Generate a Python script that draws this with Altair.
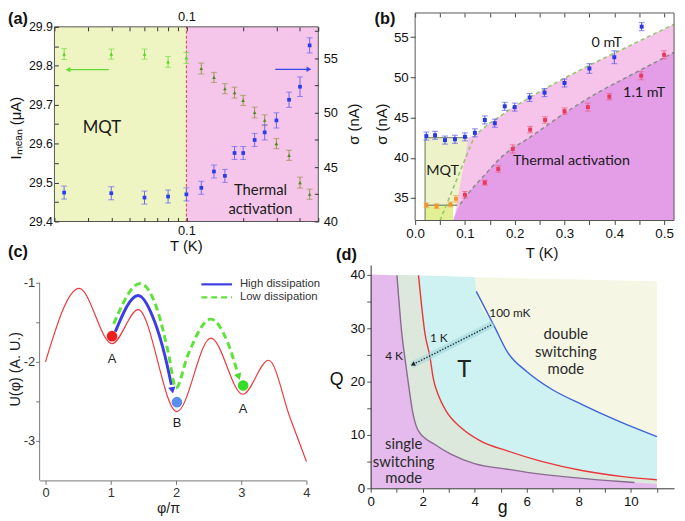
import altair as alt
import pandas as pd

AXF = "Liberation Sans"
ANF = "Lato"

# ============================ DATA ============================
# (a) mean switching current (left axis) and sigma (right axis) vs T (log axis)
T_A = [0.0225, 0.04, 0.06, 0.08, 0.10, 0.12, 0.14, 0.16, 0.18, 0.20, 0.23, 0.26, 0.30, 0.35, 0.40, 0.45]
IMEAN = [29.830, 29.830, 29.830, 29.810, 29.820, 29.793, 29.770, 29.741, 29.731, 29.711,
         29.680, 29.660, 29.600, 29.570, 29.500, 29.470]
IMEAN_ERR = [0.014, 0.013, 0.013, 0.014, 0.014, 0.014, 0.013, 0.013, 0.014, 0.013,
             0.014, 0.014, 0.013, 0.013, 0.014, 0.013]
SIGMA_A = [42.66, 42.60, 42.20, 42.30, 42.50, 43.10, 44.60, 44.20, 46.30, 46.30,
           47.50, 48.20, 49.30, 51.20, 52.40, 56.20]
SIGMA_A_ERR = [0.6, 0.6, 0.6, 0.6, 0.6, 0.6, 0.6, 0.6, 0.6, 0.6, 0.6, 0.7, 0.7, 0.7, 0.9, 0.7]
A_T_LIMITS = [0.02, 0.5]
A_I_LIMITS = [29.4, 29.9]
A_T_CROSS = 0.1
A_T_TICKS = [0.02, 0.03, 0.04, 0.05, 0.06, 0.07, 0.08, 0.09, 0.1, 0.2, 0.3, 0.4, 0.5]
A_I_TICKS = [29.4, 29.45, 29.5, 29.55, 29.6, 29.65, 29.7, 29.75, 29.8, 29.85, 29.9]
A_S_TICKS = [40, 42.5, 45, 47.5, 50, 52.5, 55, 57.5]
A_NOTE_TEXT = ["Thermal", "activation"]
A_NOTE_T = [0.247, 0.247]
A_NOTE_I = [29.481, 29.431]
A_MQT_T, A_MQT_I = 0.0357, 29.639
A_ARROW_I = 29.79
A_ARROW_I_T = [0.0388, 0.0236]
A_ARROW_S = 54.0
A_ARROW_S_T = [0.296, 0.446]

# (b) sigma vs T at 0 mT and 1.1 mT
T_B0 = [0.0225, 0.04, 0.06, 0.08, 0.10, 0.12, 0.14, 0.16, 0.18, 0.20, 0.23, 0.26, 0.30, 0.35, 0.40, 0.455]
SIG_B0 = [42.7, 42.8, 42.2, 42.3, 42.6, 43.1, 44.7, 44.3, 46.4, 46.3, 47.5, 48.1, 49.3, 51.1, 52.5, 56.3]
ERR_B0 = [0.5, 0.5, 0.5, 0.5, 0.5, 0.5, 0.5, 0.5, 0.5, 0.5, 0.5, 0.5, 0.5, 0.6, 0.8, 0.5]
T_B1 = [0.0225, 0.043, 0.071, 0.082, 0.10, 0.14, 0.167, 0.196, 0.231, 0.261, 0.30, 0.347, 0.39, 0.454, 0.50]
SIG_B1 = [34.1, 34.0, 34.2, 34.9, 35.4, 36.9, 38.6, 41.1, 43.5, 44.7, 45.8, 46.3, 47.6, 50.2, 52.8]
ERR_B1 = [0.3, 0.3, 0.3, 0.4, 0.4, 0.3, 0.4, 0.5, 0.4, 0.4, 0.4, 0.5, 0.4, 0.5, 0.5]
B_T_LIMITS = [0.0, 0.52]
B_S_LIMITS = [32.2, 58.0]
B_T_TICKS = [0.0, 0.05, 0.1, 0.15, 0.2, 0.25, 0.3, 0.35, 0.4, 0.45, 0.5]
B_S_TICKS = [35, 40, 45, 50, 55]
B_BOX_T0 = [0.02, 0.02]
B_BOX_T1 = [0.106, 0.076]
B_BOX_S0 = [34.1, 32.2]
B_BOX_S1 = [42.5, 34.1]
B_BOX_KIND = ["MQT box", "MQT strip"]
B_PINK_T = [0.078, 0.107, 0.12, 0.15, 0.20, 0.25, 0.30, 0.35, 0.40, 0.45, 0.52]
B_PINK_S = [32.2, 42.5, 42.8, 44.3, 46.4, 48.2, 49.9, 51.5, 53.0, 54.5, 56.6]
B_ZERO_T = [0.05, 0.12, 0.15, 0.20, 0.25, 0.30, 0.35, 0.40, 0.45, 0.52]
B_ZERO_S = [32.2, 42.8, 44.3, 46.4, 48.2, 49.9, 51.5, 53.0, 54.5, 56.6]
B_MAG_T = [0.076, 0.09, 0.106, 0.14, 0.172, 0.238, 0.304, 0.37, 0.437, 0.52]
B_MAG_S = [32.2, 34.2, 35.5, 37.9, 40.0, 42.85, 45.7, 48.2, 50.4, 53.1]
B_LINE_T0 = [0.02, 0.02, 0.02]
B_LINE_T1 = [0.106, 0.085, 0.02]
B_LINE_S0 = [42.5, 34.1, 32.2]
B_LINE_S1 = [42.5, 34.1, 42.5]
B_NOTE_TEXT = ["0 mT", "1.1 mT", "Thermal activation", "MQT"]
B_NOTE_T = [0.385, 0.46, 0.314, 0.055]
B_NOTE_S = [54.3, 48.0, 39.6, 38.3]

# (c) tilted washboard potential
C_PHI = [0.0, 0.515, 1.02, 1.42, 2.015, 2.535, 3.025, 3.42, 3.75, 4.0]
C_U = [-2.0, -1.07, -1.77, -1.34, -2.63, -1.70, -2.41, -1.98, -2.71, -3.26]
C_HIGH_PHI = [1.07, 1.42, 1.677, 1.83, 1.93]
C_HIGH_U = [-1.62, -1.16, -1.50, -1.92, -2.29]
C_LOW_PHI = [1.045, 1.45, 1.727, 1.88, 2.0, 2.18, 2.535, 2.79, 2.95]
C_LOW_U = [-1.52, -1.01, -1.375, -1.875, -2.33, -1.92, -1.46, -1.75, -2.15]
C_HEAD_HIGH = [1.945, -2.36]
C_HEAD_LOW = [2.962, -2.19]
C_DOT_PHI = [1.02, 2.015, 3.03]
C_DOT_U = [-1.675, -2.51, -2.30]
C_DOT_STATE = ["A (start)", "B", "A (next)"]
C_LAB_TEXT = ["A", "B", "A"]
C_LAB_U = [-1.96, -2.78, -2.60]
C_PHI_TICKS = [0, 1, 2, 3, 4]
C_U_TICKS = [-3, -2.5, -2, -1.5, -1]
C_U_AXIS = [-3.5, -1.0]
C_LEG_PHI = [2.39, 2.86]
C_LEG_U = [-1.02, -1.185]
C_LEG_TEXT = ["High dissipation", "Low dissipation"]
C_LEG_TEXT_PHI = 2.98

# (d) switching-mode phase diagram in (g, Q)
D_4K_G = [1.01, 1.2, 1.33, 1.46, 1.61, 1.84, 2.47, 3.1, 3.99, 5.26, 6.53, 8.43, 10.14]
D_4K_Q = [39.9, 28.9, 23.9, 19.3, 14.4, 10.7, 8.2, 6.35, 4.63, 3.58, 2.65, 1.73, 1.1]
D_1K_G = [1.84, 2.09, 2.28, 2.41, 2.6, 2.91, 3.49, 4.25, 5.26, 6.53, 8.17, 9.7, 11.0]
D_1K_Q = [39.9, 28.9, 24.6, 20.5, 17.5, 14.4, 11.3, 8.8, 7.0, 5.1, 3.3, 2.2, 1.6]
D_100_G = [4.06, 4.75, 5.26, 6.02, 6.91, 8.17, 9.57, 11.0]
D_100_Q = [36.9, 30.4, 25.5, 21.8, 18.7, 15.6, 12.5, 9.7]
D_TOP_G = [0.0, 4.0, 11.0]
D_TOP_Q = [40.0, 39.56, 38.8]
D_PURPLE_END = [11.0, 0.8]
D_G_TICKS = [0, 1, 2, 3, 4, 5, 6, 7, 8, 9, 10, 11]
D_Q_TICKS = [0, 5, 10, 15, 20, 25, 30, 35, 40]
D_ARROW_G = [4.63, 1.66]
D_ARROW_Q = [30.6, 23.3]
D_HEAD = [1.62, 23.2]
D_MODE_TEXT = ["double", "switching", "mode", "single", "switching", "mode"]
D_MODE_G = [7.5, 7.5, 7.5, 1.27, 1.27, 1.27]
D_MODE_Q = [28.9, 25.6, 22.4, 8.2, 5.0, 1.9]
D_TEMP_TEXT = ["100 mK", "1 K", "4 K"]
D_TEMP_G = [5.35, 2.62, 0.9]
D_TEMP_Q = [32.9, 28.2, 24.7]
D_T_POS = [3.6, 22.1]


# ============================ HELPERS ============================
def X(f, s, axis=None):
    return alt.X(f, type="quantitative", scale=s, axis=axis)


def Y(f, s, axis=None):
    return alt.Y(f, type="quantitative", scale=s, axis=axis)


def cscale(domain, rng):
    return alt.Color("k:N", scale=alt.Scale(domain=domain, range=rng), legend=None)


def panel_label(txt, px, py):
    return alt.Chart(pd.DataFrame({"lab": [txt]})).mark_text(
        align="left", baseline="top", font=AXF, fontSize=16.5, fontWeight="bold", color="#111"
    ).encode(x=alt.value(px), y=alt.value(py), text="lab:N")


def errbars(df, xs, ys, color, cap):
    base = alt.Chart(df)
    r = base.mark_rule(strokeWidth=1).encode(x=X("x", xs), y=Y("lo", ys), y2="hi", color=color)
    t1 = base.mark_tick(orient="horizontal", size=cap, thickness=1).encode(
        x=X("x", xs), y=Y("lo", ys), color=color)
    t2 = base.mark_tick(orient="horizontal", size=cap, thickness=1).encode(
        x=X("x", xs), y=Y("hi", ys), color=color)
    return [r, t1, t2]


def ebdf(xv, yv, ev, kinds):
    return pd.DataFrame({"x": xv, "y": yv,
                         "lo": [a - b for a, b in zip(yv, ev)],
                         "hi": [a + b for a, b in zip(yv, ev)],
                         "k": kinds})


COMMON_AX = dict(grid=False, zindex=1, labelFont=AXF, titleFont=AXF, titleFontWeight="normal",
                 labelOverlap=False, labelFlush=False, titleAlign="center", titleBaseline="middle")

# ============================ PANEL (a) ============================
A_XS = alt.Scale(type="log", domain=[0.01669, 0.5], nice=False)
A_YL = alt.Scale(domain=[29.4, 29.9355], nice=False, zero=False)
A_YR = alt.Scale(domain=[40, 59.18], nice=False, zero=False)
A_AX = dict(COMMON_AX, domain=False, tickColor="#333", tickSize={"expr": "-4"},
            labelColor="#111", titleFontSize=15, titleColor="#111")

a_ax_bottom = alt.Axis(orient="bottom", values=A_T_TICKS, labelExpr="datum.value == 0.1 ? '0.1' : ''",
                       labelFontSize=13, labelPadding=7, title="T (K)", titleX=148, titleY=24, titleAngle=0, **A_AX)
a_ax_top = alt.Axis(orient="top", offset=-14, values=A_T_TICKS,
                    labelExpr="datum.value == 0.1 ? '0.1' : ''", labelFontSize=13, labelPadding=7,
                    title=None, **A_AX)
a_ax_left = alt.Axis(orient="left", offset=-15, values=A_I_TICKS,
                     labelExpr="round(datum.value*100) % 10 == 0 ? format(datum.value, '.1f') : ''",
                     labelFontSize=12.5, labelPadding=6, title="Iₘₑₐₙ (μA)", titleX=-39, titleY=116,
                     titleAngle=270, **A_AX)
a_ax_right = alt.Axis(orient="right", values=A_S_TICKS,
                      labelExpr="datum.value % 5 == 0 ? '' + datum.value : ''",
                      labelFontSize=13, labelPadding=9, title="σ (nA)", titleX=36, titleY=112,
                      titleAngle=270, **A_AX)

a_reg = pd.DataFrame({"t0": [A_T_LIMITS[0], A_T_CROSS], "t1": [A_T_CROSS, A_T_LIMITS[1]],
                      "i0": [A_I_LIMITS[0], A_I_LIMITS[0]], "i1": [A_I_LIMITS[1], A_I_LIMITS[1]],
                      "k": ["MQT", "TA"]})
a_bg = alt.Chart(a_reg).mark_rect().encode(
    x=X("t0", A_XS, a_ax_bottom), x2="t1", y=Y("i0", A_YL, a_ax_left), y2="i1",
    color=cscale(["MQT", "TA"], ["#eef5c3", "#f5c6ea"]))
a_box = pd.DataFrame({"t0": [A_T_LIMITS[0]], "t1": [A_T_LIMITS[1]],
                      "i0": [A_I_LIMITS[0]], "i1": [A_I_LIMITS[1]]})
a_frame = alt.Chart(a_box).mark_rect(fill="transparent", stroke="#555", strokeWidth=1).encode(
    x=X("t0", A_XS, a_ax_top), x2="t1", y=Y("i0", A_YL), y2="i1")
a_cross = alt.Chart(pd.DataFrame({"t": [A_T_CROSS], "i0": [A_I_LIMITS[0]], "i1": [A_I_LIMITS[1]]})).mark_rule(
    color="#e0393e", strokeDash=[3, 2], strokeWidth=1).encode(x=X("t", A_XS), y=Y("i0", A_YL), y2="i1")

a_g = ebdf(T_A, IMEAN, IMEAN_ERR, ["MQT" if t <= A_T_CROSS else "TA" for t in T_A])
a_b = ebdf(T_A, SIGMA_A, SIGMA_A_ERR, ["s" for _ in T_A])
a_g_bars = errbars(a_g, A_XS, A_YL, cscale(["MQT", "TA"], ["#78df45", "#97934f"]), 6)
a_g_pts = alt.Chart(a_g).mark_point(shape="triangle-up", filled=True, size=14, opacity=1).encode(
    x=X("x", A_XS), y=Y("y", A_YL), color=cscale(["MQT", "TA"], ["#55d21f", "#4b8a1f"]))
a_b_bars = errbars(a_b, A_XS, A_YR, cscale(["s"], ["#6a6af0"]), 6)
a_b_pts = alt.Chart(a_b).mark_point(shape="square", filled=True, size=14, opacity=1).encode(
    x=X("x", A_XS), y=Y("y", A_YR, a_ax_right), color=cscale(["s"], ["#2b3de8"]))

a_arr_g = pd.DataFrame({"t0": [A_ARROW_I_T[0]], "t1": [A_ARROW_I_T[1]], "v": [A_ARROW_I]})
a_arr_b = pd.DataFrame({"t0": [A_ARROW_S_T[0]], "t1": [A_ARROW_S_T[1]], "v": [A_ARROW_S]})
a_arrows = [
    alt.Chart(a_arr_g).mark_rule(color="#62d92f", strokeWidth=1.3).encode(
        x=X("t0", A_XS), x2="t1", y=Y("v", A_YL)),
    alt.Chart(a_arr_g).mark_point(shape="triangle-left", filled=True, size=30, color="#62d92f", opacity=1).encode(
        x=X("t1", A_XS), y=Y("v", A_YL)),
    alt.Chart(a_arr_b).mark_rule(color="#3447ea", strokeWidth=1.3).encode(
        x=X("t0", A_XS), x2="t1", y=Y("v", A_YR)),
    alt.Chart(a_arr_b).mark_point(shape="triangle-right", filled=True, size=30, color="#3447ea", opacity=1).encode(
        x=X("t1", A_XS), y=Y("v", A_YR)),
]
a_mqt = alt.Chart(pd.DataFrame({"t": [A_MQT_T], "v": [A_MQT_I], "txt": ["MQT"]})).mark_text(
    font=ANF, fontSize=17, color="#1a1a1a").encode(x=X("t", A_XS), y=Y("v", A_YL), text="txt:N")
a_notes = alt.Chart(pd.DataFrame({"t": A_NOTE_T, "v": A_NOTE_I, "txt": A_NOTE_TEXT})).mark_text(
    font=ANF, fontSize=15, color="#1a1a1a").encode(x=X("t", A_XS), y=Y("v", A_YL), text="txt:N")

panel_a = alt.layer(
    a_bg, a_frame, a_cross, *a_g_bars, a_g_pts, *a_b_bars, a_b_pts, *a_arrows, a_mqt, a_notes,
    panel_label("(a)", -32, -2)
).resolve_scale(y="independent", color="independent").resolve_axis(x="independent", y="independent").properties(
    width=282, height=211)

# ============================ PANEL (b) ============================
B_XS = alt.Scale(domain=[-0.0893, 0.52], nice=False, zero=False)
B_YS = alt.Scale(domain=[32.2, 58.0], nice=False, zero=False)
B_AX = dict(COMMON_AX, domain=False, tickColor="#444", labelFontSize=13.5, labelColor="#111",
            titleFontSize=15, titleColor="#111")
b_ax_left = alt.Axis(orient="left", offset=-45, values=B_S_TICKS, tickSize=5, labelPadding=2,
                     title="σ (nA)", titleX=-34, titleY=112, titleAngle=270, **B_AX)
b_ax_bottom = alt.Axis(orient="bottom", values=B_T_TICKS,
                       labelExpr="round(datum.value*100) % 10 == 0 ? format(datum.value, '.1f') : ''",
                       tickSize=4, labelPadding=2, title="T (K)", titleX=173, titleY=32, titleAngle=0, **B_AX)
b_ax_top = alt.Axis(orient="top", values=B_T_TICKS, labels=False, tickSize={"expr": "-4"}, title=None, **B_AX)

b_boxes = alt.Chart(pd.DataFrame({"t0": B_BOX_T0, "t1": B_BOX_T1, "s0": B_BOX_S0, "s1": B_BOX_S1,
                                  "k": B_BOX_KIND})).mark_rect().encode(
    x=X("t0", B_XS, b_ax_top), x2="t1", y=Y("s0", B_YS), y2="s1",
    color=cscale(B_BOX_KIND, ["#eef2c9", "#e2ef92"]))
b_pink = alt.Chart(pd.DataFrame({"t": B_PINK_T, "s": B_PINK_S, "b": [B_S_LIMITS[0] for _ in B_PINK_T]})).mark_area(
    color="#f6c4ea", opacity=1).encode(x=X("t", B_XS), y=Y("s", B_YS), y2="b")
b_mag = alt.Chart(pd.DataFrame({"t": B_MAG_T, "s": B_MAG_S, "b": [B_S_LIMITS[0] for _ in B_MAG_T]})).mark_area(
    color="#e49de7", opacity=1, interpolate="monotone").encode(x=X("t", B_XS), y=Y("s", B_YS), y2="b")
b_lines = alt.Chart(pd.DataFrame({"t0": B_LINE_T0, "t1": B_LINE_T1, "s0": B_LINE_S0, "s1": B_LINE_S1})).mark_rule(
    color="#8b9a7b", strokeWidth=1.4).encode(x=X("t0", B_XS), x2="t1", y=Y("s0", B_YS), y2="s1")
b_zero = alt.Chart(pd.DataFrame({"t": B_ZERO_T, "s": B_ZERO_S})).mark_line(
    color="#93c46c", strokeDash=[4, 3], strokeWidth=1.5).encode(x=X("t", B_XS), y=Y("s", B_YS))
b_one = alt.Chart(pd.DataFrame({"t": B_MAG_T[1:], "s": B_MAG_S[1:]})).mark_line(
    color="#8a8a8a", strokeDash=[4, 3], strokeWidth=1.5, interpolate="monotone").encode(
    x=X("t", B_XS), y=Y("s", B_YS))
b_frame = alt.Chart(pd.DataFrame({"t0": [B_T_LIMITS[0]], "t1": [B_T_LIMITS[1]],
                                  "s0": [B_S_LIMITS[0]], "s1": [B_S_LIMITS[1]]})).mark_rect(
    fill="transparent", stroke="#555", strokeWidth=1).encode(
    x=X("t0", B_XS, b_ax_bottom), x2="t1", y=Y("s0", B_YS, b_ax_left), y2="s1")

b_0 = ebdf(T_B0, SIG_B0, ERR_B0, ["0" for _ in T_B0])
b_1 = ebdf(T_B1, SIG_B1, ERR_B1, ["MQT" if t < 0.09 else "TA" for t in T_B1])
b_0_bars = errbars(b_0, B_XS, B_YS, cscale(["0"], ["#5757ee"]), 6)
b_0_pts = alt.Chart(b_0).mark_point(shape="square", filled=True, size=16, opacity=1).encode(
    x=X("x", B_XS), y=Y("y", B_YS), color=cscale(["0"], ["#2a37e6"]))
b_1_bars = errbars(b_1, B_XS, B_YS, cscale(["MQT", "TA"], ["#f4a64a", "#ef5a78"]), 6)
b_1_pts = alt.Chart(b_1).mark_point(shape="square", filled=True, size=16, opacity=1).encode(
    x=X("x", B_XS), y=Y("y", B_YS), color=cscale(["MQT", "TA"], ["#f2962c", "#e83a5e"]))
b_notes = alt.Chart(pd.DataFrame({"t": B_NOTE_T, "s": B_NOTE_S, "txt": B_NOTE_TEXT})).mark_text(
    font=ANF, fontSize=14.5, color="#1a1a1a").encode(x=X("t", B_XS), y=Y("s", B_YS), text="txt:N")

panel_b = alt.layer(
    b_boxes, b_pink, b_mag, b_lines, b_zero, b_one, b_frame, *b_0_bars, b_0_pts, *b_1_bars, b_1_pts,
    b_notes, panel_label("(b)", 4, -2)
).resolve_scale(color="independent").resolve_axis(x="independent", y="independent").properties(
    width=307, height=210)

# ============================ PANEL (c) ============================
C_XS = alt.Scale(domain=[-0.09, 4.0], nice=False, zero=False)
C_YS = alt.Scale(domain=[-3.5, -0.775], nice=False, zero=False)
C_AX = dict(COMMON_AX, tickColor="#777", labelFontSize=13, labelColor="#333", titleFontSize=14.5,
            titleColor="#222")
c_ax_x = alt.Axis(orient="bottom", values=C_PHI_TICKS, domain=True, domainColor="#777", tickSize=4,
                  labelPadding=2, title="φ/π", titleX=130, titleY=28, titleAngle=0, **C_AX)
c_ax_y = alt.Axis(orient="left", domain=False, values=C_U_TICKS,
                  labelExpr="datum.value % 1 == 0 ? '' + datum.value : ''", tickSize=4, labelPadding=1,
                  title="U(φ) (A. U.)", titleX=-24, titleY=105, titleAngle=270, **C_AX)

c_red = alt.Chart(pd.DataFrame({"p": C_PHI, "u": C_U})).mark_line(
    color="#ec3b3f", strokeWidth=1.2, interpolate="monotone").encode(
    x=X("p", C_XS, c_ax_x), y=Y("u", C_YS, c_ax_y))
c_yline = alt.Chart(pd.DataFrame({"p": [C_XS.domain[0]], "u0": [C_U_AXIS[0]], "u1": [C_U_AXIS[1]]})).mark_rule(
    color="#777", strokeWidth=1).encode(x=X("p", C_XS), y=Y("u0", C_YS), y2="u1")
c_high = alt.Chart(pd.DataFrame({"p": C_HIGH_PHI, "u": C_HIGH_U})).mark_line(
    color="#3d3de6", strokeWidth=3, interpolate="monotone").encode(x=X("p", C_XS), y=Y("u", C_YS))
c_high_head = alt.Chart(pd.DataFrame({"p": [C_HEAD_HIGH[0]], "u": [C_HEAD_HIGH[1]]})).mark_point(
    shape="triangle-down", angle=350, filled=True, size=55, color="#3d3de6", opacity=1).encode(
    x=X("p", C_XS), y=Y("u", C_YS))
c_low = alt.Chart(pd.DataFrame({"p": C_LOW_PHI, "u": C_LOW_U})).mark_line(
    color="#5fe23a", strokeWidth=3, strokeDash=[7, 4], interpolate="monotone").encode(
    x=X("p", C_XS), y=Y("u", C_YS))
c_low_head = alt.Chart(pd.DataFrame({"p": [C_HEAD_LOW[0]], "u": [C_HEAD_LOW[1]]})).mark_point(
    shape="triangle-down", angle=340, filled=True, size=60, color="#4fd92c", opacity=1).encode(
    x=X("p", C_XS), y=Y("u", C_YS))
c_dots = alt.Chart(pd.DataFrame({"p": C_DOT_PHI, "u": C_DOT_U, "k": C_DOT_STATE})).mark_point(
    shape="circle", filled=True, size=115, opacity=1).encode(
    x=X("p", C_XS), y=Y("u", C_YS), color=cscale(C_DOT_STATE, ["#f01e1e", "#5b8def", "#35dc2a"]))
c_labs = alt.Chart(pd.DataFrame({"p": C_DOT_PHI, "u": C_LAB_U, "txt": C_LAB_TEXT})).mark_text(
    font=AXF, fontSize=13, color="#222").encode(x=X("p", C_XS), y=Y("u", C_YS), text="txt:N")
c_leg_hi = alt.Chart(pd.DataFrame({"p0": [C_LEG_PHI[0]], "p1": [C_LEG_PHI[1]], "u": [C_LEG_U[0]]})).mark_rule(
    color="#3d3de6", strokeWidth=2.2).encode(x=X("p0", C_XS), x2="p1", y=Y("u", C_YS))
c_leg_lo = alt.Chart(pd.DataFrame({"p0": [C_LEG_PHI[0]], "p1": [C_LEG_PHI[1]], "u": [C_LEG_U[1]]})).mark_rule(
    color="#5fe23a", strokeWidth=2.2, strokeDash=[6, 4]).encode(x=X("p0", C_XS), x2="p1", y=Y("u", C_YS))
c_leg_txt = alt.Chart(pd.DataFrame({"p": [C_LEG_TEXT_PHI, C_LEG_TEXT_PHI], "u": C_LEG_U, "txt": C_LEG_TEXT})).mark_text(
    font=AXF, fontSize=11.5, color="#333", align="left").encode(x=X("p", C_XS), y=Y("u", C_YS), text="txt:N")

panel_c = alt.layer(
    c_red, c_yline, c_high, c_high_head, c_low, c_low_head, c_dots, c_labs, c_leg_hi, c_leg_lo, c_leg_txt,
    panel_label("(c)", -32, -21)
).resolve_scale(color="independent").resolve_axis(x="independent", y="independent").properties(
    width=270, height=218)

# ============================ PANEL (d) ============================
D_XS = alt.Scale(domain=[0, 11.66], nice=False, zero=False)
D_YS = alt.Scale(domain=[0, 41.85], nice=False, zero=False)
D_AX = dict(COMMON_AX, domain=True, domainColor="#333", tickColor="#555", tickSize=4, labelPadding=2,
            labelFontSize=13.5, labelColor="#111", titleFontSize=18, titleColor="#111")
d_ax_x = alt.Axis(orient="bottom", values=D_G_TICKS, labelExpr="datum.value % 2 == 0 ? '' + datum.value : ''",
                  title="g", titleX=133, titleY=19, titleAngle=0, **D_AX)
d_ax_y = alt.Axis(orient="left", values=D_Q_TICKS, labelExpr="datum.value % 10 == 0 ? '' + datum.value : ''",
                  title="Q", titleX=-35, titleY=116, titleAngle=0, **D_AX)


def region(gs, qs, color, axes=False):
    df = pd.DataFrame({"g": gs, "q": qs, "b": [0.0 for _ in gs]})
    return alt.Chart(df).mark_area(color=color, opacity=1, interpolate="monotone").encode(
        x=X("g", D_XS, d_ax_x if axes else None), y=Y("q", D_YS, d_ax_y if axes else None), y2="b")


d_yellow = region([D_TOP_G[0], D_TOP_G[2]], [D_TOP_Q[0], D_TOP_Q[2]], "#f5f7e4", axes=True)
d_cyan = region([D_TOP_G[0], D_TOP_G[1]] + D_100_G, [D_TOP_Q[0], D_TOP_Q[1]] + D_100_Q, "#cdf2f1")
d_gray = region([D_TOP_G[0]] + D_1K_G, [D_TOP_Q[0]] + D_1K_Q, "#dde8dc")
d_purple = region([D_TOP_G[0]] + D_4K_G + [D_PURPLE_END[0]], [D_TOP_Q[0]] + D_4K_Q + [D_PURPLE_END[1]], "#e5bbed")


def curve(gs, qs, color):
    return alt.Chart(pd.DataFrame({"g": gs, "q": qs})).mark_line(
        color=color, strokeWidth=1.4, interpolate="monotone").encode(x=X("g", D_XS), y=Y("q", D_YS))


d_4k = curve(D_4K_G, D_4K_Q, "#8a6b90")
d_1k = curve(D_1K_G, D_1K_Q, "#e8363a")
d_100 = curve(D_100_G, D_100_Q, "#3d63d8")
d_arr = pd.DataFrame({"g0": [D_ARROW_G[0]], "g1": [D_ARROW_G[1]], "q0": [D_ARROW_Q[0]], "q1": [D_ARROW_Q[1]]})
d_glow = alt.Chart(d_arr).mark_rule(color="#9fd6dd", strokeWidth=7, opacity=0.55, strokeCap="round").encode(
    x=X("g0", D_XS), x2="g1", y=Y("q0", D_YS), y2="q1")
d_dots = alt.Chart(d_arr).mark_rule(color="#222", strokeWidth=1.3, strokeDash=[1.5, 1.5]).encode(
    x=X("g0", D_XS), x2="g1", y=Y("q0", D_YS), y2="q1")
d_head = alt.Chart(pd.DataFrame({"g": [D_HEAD[0]], "q": [D_HEAD[1]]})).mark_point(
    shape="triangle-left", angle=333, filled=True, size=26, color="#222", opacity=1).encode(
    x=X("g", D_XS), y=Y("q", D_YS))
d_modes = alt.Chart(pd.DataFrame({"g": D_MODE_G, "q": D_MODE_Q, "txt": D_MODE_TEXT})).mark_text(
    font=ANF, fontSize=15, color="#2a2a2a").encode(x=X("g", D_XS), y=Y("q", D_YS), text="txt:N")
d_temps = alt.Chart(pd.DataFrame({"g": D_TEMP_G, "q": D_TEMP_Q, "txt": D_TEMP_TEXT})).mark_text(
    font=ANF, fontSize=12, color="#222").encode(x=X("g", D_XS), y=Y("q", D_YS), text="txt:N")
d_T = alt.Chart(pd.DataFrame({"g": [D_T_POS[0]], "q": [D_T_POS[1]], "txt": ["T"]})).mark_text(
    font=ANF, fontSize=24, color="#222").encode(x=X("g", D_XS), y=Y("q", D_YS), text="txt:N")

panel_d = alt.layer(
    d_yellow, d_cyan, d_gray, d_purple, d_4k, d_1k, d_100, d_glow, d_dots, d_head, d_modes, d_temps, d_T,
    panel_label("(d)", -35, -18)
).resolve_axis(x="independent", y="independent").properties(width=307, height=226)

# ============================ FIGURE ============================
chart = alt.concat(
    panel_a, panel_b, panel_c, panel_d, columns=2,
    spacing={"row": 44, "column": 53}, bounds="flush", align="each"
).properties(padding=0).configure_view(strokeWidth=0)

chart.save("out.html", embed_options={"renderer": "svg", "actions": False})
